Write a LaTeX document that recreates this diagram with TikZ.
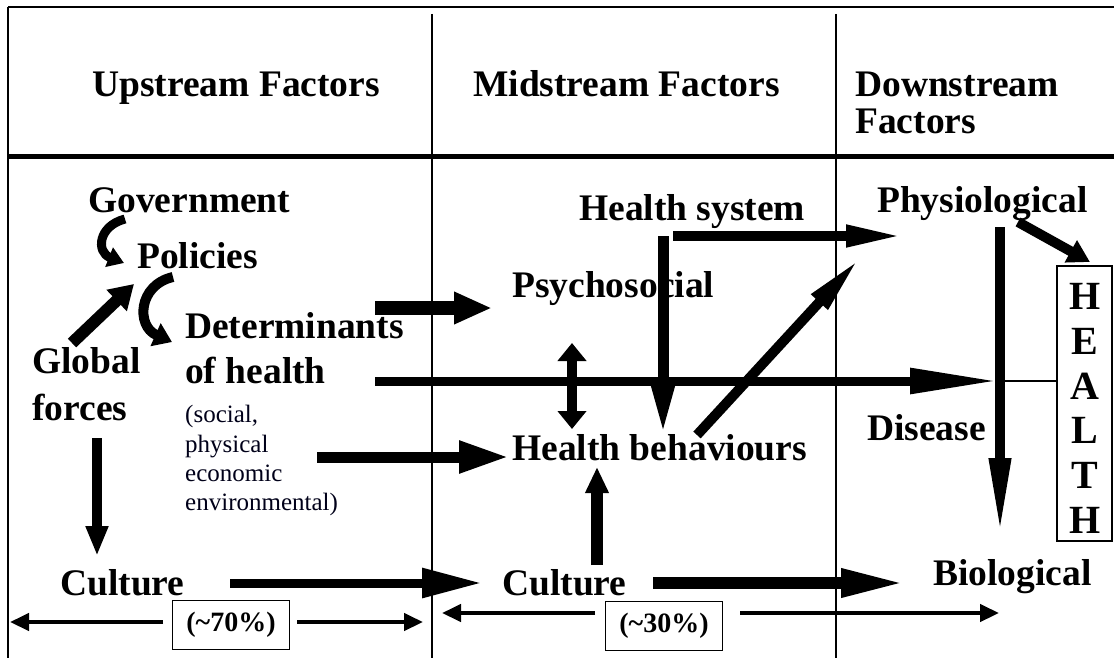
\documentclass[tikz,border=0pt]{standalone}
\usepackage{fontspec}
\setmainfont{Liberation Serif}
\usetikzlibrary{arrows.meta}
\tikzset{
  lbl/.style={anchor=base west, inner sep=0pt, font=\fontsize{37.5}{40}\selectfont\bfseries},
  small/.style={anchor=base west, inner sep=0pt, font=\fontsize{25}{28}\selectfont, text=black!90!blue},
  pct/.style={draw, line width=1.2pt, minimum width=117pt, minimum height=49pt, inner sep=0pt, font=\fontsize{28}{30}\selectfont\bfseries},
  hl/.style={anchor=base, inner sep=0pt, font=\fontsize{40}{42}\selectfont\bfseries},
  frame/.style={line width=2pt},
  divider/.style={line width=1.3pt},
  ar/.style={line width=#1, draw=black},
  thinar/.style={line width=4.5pt, -{Triangle[length=19pt,width=17pt]}},
}
\begin{document}
\begin{tikzpicture}[x=1pt,y=-1pt]
\useasboundingbox (0,0) rectangle (1114,658);
\fill[white] (0,0) rectangle (1114,658);
% frame
\draw[frame] (8,7) -- (1114,7);
\draw[frame] (8,7) -- (8,658);
\draw[divider] (432,14) -- (432,658);
\draw[divider] (836,14) -- (836,658);
\draw[line width=5pt] (8,157) -- (1114,157);
% headers
\node[lbl] (up) at (92,97) {Upstream Factors};
\node[lbl] (mid) at (473,97) {Midstream Factors};
\node[lbl] (down) at (855,97) {Downstream};
\node[lbl] (down2) at (855,134) {Factors};
% upstream
\node[lbl] (gov) at (88,212) {Government};
\node[lbl] (pol) at (137,268) {Policies};
\node[lbl] (det) at (185,338) {Determinants};
\node[lbl] (ofh) at (185,383) {of health};
\node[lbl] (glob) at (32,373) {Global};
\node[lbl] (forc) at (32,420) {forces};
\node[small] (s1) at (185,422) {(social,};
\node[small] (s2) at (185,452) {physical};
\node[small] (s3) at (185,481) {economic};
\node[small] (s4) at (185,510) {environmental)};
\node[lbl] (cultL) at (60,595) {Culture};
% midstream
\node[lbl] (hsys) at (579,220) {Health system};
\node[lbl] (psy) at (512,297) {Psychosocial};
\node[lbl] (hbeh) at (512,460) {Health behaviours};
\node[lbl] (cultM) at (502,595) {Culture};
% downstream
\node[lbl] (phys) at (877,212) {Physiological};
\node[lbl] (dis) at (867,440) {Disease};
\node[lbl] (bio) at (933,585) {Biological};
% HEALTH box
\draw[line width=1.2pt] (1057,266) rectangle (1112,541);
\coordinate (healthW) at (1057,381);
\coordinate (healthTop) at (1090,262);
\node[hl] (h1) at (1085,309) {H};
\node[hl] (h2) at (1085,354) {E};
\node[hl] (h3) at (1085,399) {A};
\node[hl] (h4) at (1085,443) {L};
\node[hl] (h5) at (1085,488) {T};
\node[hl] (h6) at (1085,533) {H};
% percent boxes
\node[pct] (p70) at (231,625) {(\char`\~70\%)};
\node[pct] (p30) at (664,626) {(\char`\~30\%)};
% coordinates for arrow ends
\coordinate (govS) at (125,219);
\coordinate (polE) at (124,263);
\coordinate (polS) at (173,277);
\coordinate (detE) at (172,342);
\coordinate (globS) at (72,343);
\coordinate (polW) at (134,284);
\coordinate (forcS) at (97,438);
\coordinate (cultLN) at (97,556);
\coordinate (detA) at (375,308);
\coordinate (psyW) at (492,308);
\coordinate (ofhA) at (375,381);
\coordinate (hlTip) at (998,381);
\coordinate (socA) at (317,457);
\coordinate (hbehW) at (509,457);
\coordinate (cultLE) at (230,583);
\coordinate (cultMW) at (482,583);
\coordinate (cultME) at (653,583);
\coordinate (bioW) at (906,583);
\coordinate (cultMN) at (597,565);
\coordinate (hbehS) at (597,467);
\coordinate (hsysA) at (663,236);
\coordinate (hbehN) at (663,438);
\coordinate (hsysB) at (673,236);
\coordinate (physW) at (904,236);
\coordinate (hbehNE) at (697,435);
\coordinate (physSW) at (860,258);
\coordinate (psyS) at (572,343);
\coordinate (hbehN2) at (572,429);
\coordinate (physS) at (1000,227);
\coordinate (bioN) at (1000,536);
\coordinate (physSE) at (1018,222);
\coordinate (p70l) at (163,622);
\coordinate (left70) at (10,622);
\coordinate (p70r) at (297,622);
\coordinate (right70) at (423,622);
\coordinate (p30l) at (595,613);
\coordinate (left30) at (442,613);
\coordinate (p30r) at (740,613);
\coordinate (right30) at (999,613);
% curved arrows
\draw[ar=9pt, -{Triangle[length=16pt,width=20pt]}] (govS) .. controls (98,226) and (96,252) .. (polE);
\draw[ar=10pt, -{Triangle[length=18pt,width=24pt]}] (polS) .. controls (138,285) and (136,326) .. (detE);
% straight arrows
\draw[ar=12pt, -{Triangle[length=24pt,width=28pt]}] (globS) -- (polW);
\draw[ar=10pt, -{Triangle[length=30pt,width=21pt]}] (forcS) -- (cultLN);
\draw[ar=14pt, -{Triangle[length=38pt,width=30pt]}] (detA) -- (psyW);
\draw[ar=9pt, -{Triangle[length=88pt,width=24pt]}] (ofhA) -- (hlTip);
\draw[line width=2.5pt] (hlTip) -- (healthW);
\draw[ar=11pt, -{Triangle[length=50pt,width=30pt]}] (socA) -- (hbehW);
\draw[ar=9pt, -{Triangle[length=60pt,width=28pt]}] (cultLE) -- (cultMW);
\draw[ar=12pt, -{Triangle[length=65pt,width=26pt]}] (cultME) -- (bioW);
\draw[ar=12pt, -{Triangle[length=26pt,width=22pt]}] (cultMN) -- (hbehS);
\draw[ar=11pt, -{Triangle[length=52pt,width=20pt]}] (hsysA) -- (hbehN);
\draw[ar=10pt, -{Triangle[length=58pt,width=20pt]}] (hsysB) -- (physW);
\draw[ar=10pt, -{Triangle[length=60pt,width=20pt]}] (hbehNE) -- (physSW);
\draw[ar=10pt, {Triangle[length=18pt,width=28pt]}-{Triangle[length=18pt,width=28pt]}] (psyS) -- (hbehN2);
\draw[ar=10pt, -{Triangle[length=78pt,width=20pt]}] (physS) -- (bioN);
\draw[ar=10pt, -{Triangle[length=22pt,width=24pt]}] (physSE) -- (healthTop);
% percentage arrows
\draw[thinar] (p70l) -- (left70);
\draw[thinar] (p70r) -- (right70);
\draw[thinar] (p30l) -- (left30);
\draw[thinar] (p30r) -- (right30);
\end{tikzpicture}
\end{document}
